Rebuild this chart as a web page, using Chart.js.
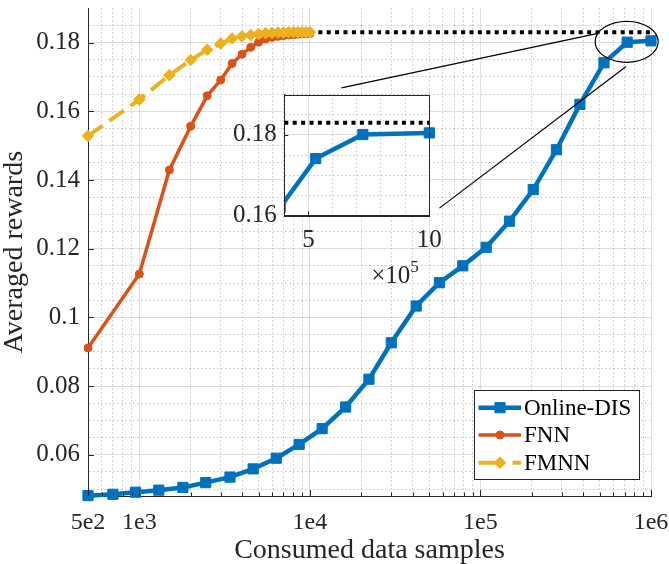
<!DOCTYPE html>
<html><head><meta charset="utf-8">
<script src="https://cdn.jsdelivr.net/npm/chart.js@4.4.1/dist/chart.umd.min.js"></script>
<style>
html,body{margin:0;padding:0;background:#fff;}
#wrap{position:relative;width:669px;height:564px;overflow:hidden;}
#main{position:absolute;left:0;top:0;}
#inset{position:absolute;left:224px;top:85px;}
</style></head><body>
<div id="wrap"><canvas id="main" width="669" height="564"></canvas><canvas id="inset" width="230" height="205"></canvas></div>
<script>
// ---- data ----
const seriesNames = ['Online-DIS', 'FNN', 'FMNN'];
const onlineDisX = [500, 700, 950, 1300, 1800, 2450, 3400, 4650, 6350, 8650, 11800, 16200, 22200, 30000, 42000, 57500, 78800, 108000, 148000, 204000, 279000, 383000, 530000, 725000, 1000000];
const onlineDisY = [0.0481, 0.0485, 0.0491, 0.0497, 0.0505, 0.0519, 0.0535, 0.0559, 0.0590, 0.0630, 0.0676, 0.0739, 0.0820, 0.0926, 0.1033, 0.1101, 0.1150, 0.1204, 0.1280, 0.1372, 0.1488, 0.1620, 0.1741, 0.1801, 0.1805];
const fnnX = [500, 1000, 1500, 2000, 2500, 3000, 3500, 4000, 4500, 5000, 5500, 6000, 6500, 7000, 7500, 8000, 8500, 9000, 9500, 10000];
const fnnY = [0.0911, 0.1126, 0.1429, 0.1556, 0.1645, 0.1691, 0.1739, 0.1766, 0.1786, 0.1801, 0.1810, 0.1815, 0.1818, 0.1820, 0.1822, 0.1823, 0.1824, 0.1825, 0.1825, 0.1826];
const fmnnX = [500, 1000, 1500, 2000, 2500, 3000, 3500, 4000, 4500, 5000, 5500, 6000, 6500, 7000, 7500, 8000, 8500, 9000, 9500, 10000];
const fmnnY = [0.1528, 0.1634, 0.1705, 0.1749, 0.1779, 0.1797, 0.1812, 0.1818, 0.1822, 0.1825, 0.1827, 0.1828, 0.1829, 0.1829, 0.1830, 0.1830, 0.1830, 0.1830, 0.1830, 0.1830];
const refLevel = 0.183;
const refX = [10000, 1000000];
const xTickValues = [500, 1000, 10000, 100000, 1000000];
const xTickLabels = ['5e2', '1e3', '1e4', '1e5', '1e6'];
const yTickValues = [0.06, 0.08, 0.1, 0.12, 0.14, 0.16, 0.18];
const yTickLabels = ['0.06', '0.08', '0.1', '0.12', '0.14', '0.16', '0.18'];
const insetXTickValues = [500000, 1000000];
const insetXTickLabels = ['5', '10'];
const insetYTickValues = [0.16, 0.18];
const insetYTickLabels = ['0.16', '0.18'];
const xLabel = 'Consumed data samples';
const yLabel = 'Averaged rewards';
const insetExponent = '5';

// ---- styling ----
const C_BLUE = '#0072BD', C_ORANGE = '#D95319', C_YELLOW = '#EDB120';
const AXIS = '#262626';
const GRID_MAJOR = 'rgba(38,38,38,0.15)';
const GRID_MINOR = 'rgba(38,38,38,0.25)';
const MINOR_DASH = [1.5, 2.5];
Chart.defaults.font.family = "'Liberation Serif', 'Times New Roman', serif";
Chart.defaults.color = AXIS;

const near = (a, b) => Math.abs(a - b) <= Math.abs(b) * 1e-6 + 1e-12;
const findIdx = (arr, v) => arr.findIndex(t => near(v, t));

// grid positions (log decades for x, 0.005 steps for y)
const xGrid = [];
[100, 1000, 10000, 100000].forEach(d => { for (let k = 1; k <= 9; k++) { const v = k * d; if (v >= 500) xGrid.push(v); } });
xGrid.push(1000000);
const yGrid = [];
for (let i = 10; i <= 37; i++) yGrid.push(i * 5 / 1000);
const insetXGrid = [400000, 500000, 600000, 700000, 800000, 900000, 1000000];
const insetYGrid = [0.16, 0.165, 0.17, 0.175, 0.18, 0.185, 0.19];
const xMajorGrid = [1000, 10000, 100000, 1000000];

const pts = (xs, ys) => xs.map((x, i) => ({x: x, y: ys[i]}));

function gridOpts(majors) {
  return {
    grid: {
      drawTicks: false, lineWidth: 1,
      color: c => (c.tick && findIdx(majors, c.tick.value) >= 0) ? GRID_MAJOR : GRID_MINOR
    },
    border: {
      display: true, color: AXIS, width: 1,
      dash: c => (c.tick && findIdx(majors, c.tick.value) < 0) ? MINOR_DASH : []
    }
  };
}

// ---- main chart ----
const legendDash = [26, 8];
const mainDecor = {
  id: 'mainDecor',
  afterDatasetsDraw(chart) {
    const {ctx, scales: {x, y}} = chart;
    ctx.save();
    ctx.strokeStyle = '#000';
    ctx.lineWidth = 1.2;
    ctx.beginPath();
    ctx.ellipse(x.getPixelForValue(720000), y.getPixelForValue(0.1802), 31.5, 20.5, 0, 0, Math.PI * 2);
    ctx.stroke();
    const seg = (x1, y1, x2, y2) => {
      ctx.beginPath();
      ctx.moveTo(x.getPixelForValue(x1), y.getPixelForValue(y1));
      ctx.lineTo(x.getPixelForValue(x2), y.getPixelForValue(y2));
      ctx.stroke();
    };
    seg(15300, 0.1668, 481000, 0.1826);
    seg(57500, 0.1318, 714000, 0.1730);
    ctx.restore();
  },
  afterDraw(chart) {
    const {ctx, chartArea: a, scales: {x, y}} = chart;
    ctx.save();
    ctx.strokeStyle = AXIS; ctx.lineWidth = 1;
    xGrid.forEach(v => {
      const px = Math.round(x.getPixelForValue(v)) + 0.5;
      const len = findIdx(xTickValues, v) >= 0 ? 6 : 3.5;
      ctx.beginPath(); ctx.moveTo(px, a.bottom); ctx.lineTo(px, a.bottom - len); ctx.stroke();
    });
    yTickValues.forEach(v => {
      const py = Math.round(y.getPixelForValue(v)) + 0.5;
      ctx.beginPath(); ctx.moveTo(a.left, py); ctx.lineTo(a.left + 6, py); ctx.stroke();
    });
    // legend box
    const bx = 474, by = 390, bw = 165, bh = 89;
    ctx.fillStyle = '#fff';
    ctx.fillRect(bx, by, bw, bh);
    ctx.strokeStyle = AXIS; ctx.lineWidth = 1;
    ctx.strokeRect(bx + 0.5, by + 0.5, bw, bh);
    const rows = [407.7, 435, 462.7];
    const ds = chart.data.datasets;
    [0, 1, 2].forEach(i => {
      const d = ds[i], yy = rows[i];
      ctx.save();
      ctx.strokeStyle = d.borderColor; ctx.lineWidth = d.borderWidth;
      ctx.setLineDash(d.borderDash ? legendDash : []);
      ctx.beginPath(); ctx.moveTo(478.5, yy); ctx.lineTo(521, yy); ctx.stroke();
      ctx.setLineDash([]);
      ctx.fillStyle = d.pointBackgroundColor; ctx.strokeStyle = d.pointBorderColor; ctx.lineWidth = 1;
      ctx.beginPath();
      if (d.pointStyle === 'rect') { const s = d.pointRadius * Math.SQRT1_2; ctx.rect(500 - s, yy - s, 2 * s, 2 * s); }
      else if (d.pointStyle === 'rectRot') { const r = d.pointRadius; ctx.moveTo(500, yy - r); ctx.lineTo(500 + r, yy); ctx.lineTo(500, yy + r); ctx.lineTo(500 - r, yy); ctx.closePath(); }
      else { ctx.arc(500, yy, d.pointRadius, 0, Math.PI * 2); }
      ctx.fill(); ctx.stroke();
      ctx.restore();
      ctx.fillStyle = '#000';
      ctx.font = "23px 'Liberation Serif', 'Times New Roman', serif";
      ctx.textBaseline = 'middle'; ctx.textAlign = 'left';
      ctx.fillText(seriesNames[i], 524, yy + 1);
    });
    ctx.restore();
  }
};

const gx = gridOpts(xMajorGrid);
const gy = gridOpts(yTickValues);

const mainChart = new Chart(document.getElementById('main'), {
  type: 'line',
  data: {
    datasets: [
      {label: seriesNames[0], data: pts(onlineDisX, onlineDisY), borderColor: C_BLUE, backgroundColor: C_BLUE,
       borderWidth: 4.5, pointStyle: 'rect', pointRadius: 7.2, pointBackgroundColor: C_BLUE, pointBorderColor: C_BLUE,
       pointBorderWidth: 1, tension: 0, clip: false, order: 2},
      {label: seriesNames[1], data: pts(fnnX, fnnY), borderColor: C_ORANGE, backgroundColor: C_ORANGE,
       borderWidth: 3.5, pointStyle: 'circle', pointRadius: 4, pointBackgroundColor: C_ORANGE, pointBorderColor: C_ORANGE,
       pointBorderWidth: 1, tension: 0, clip: false, order: 1},
      {label: seriesNames[2], data: pts(fmnnX, fmnnY), borderColor: C_YELLOW, backgroundColor: C_YELLOW,
       borderWidth: 4, borderDash: [18, 8], pointStyle: 'rectRot', pointRadius: 5.8, pointBackgroundColor: C_YELLOW, pointBorderColor: C_YELLOW,
       pointBorderWidth: 1, tension: 0, clip: false, order: 0},
      {label: 'ref', data: pts(refX, [refLevel, refLevel]), borderColor: '#000', borderWidth: 4, borderDash: [4, 4.4],
       borderCapStyle: 'butt', pointRadius: 0, tension: 0, clip: false, order: 3}
    ]
  },
  options: {
    responsive: false, animation: false, devicePixelRatio: 1,
    layout: {padding: {left: 0, right: 18, top: 7, bottom: 0}},
    plugins: {legend: {display: false}, tooltip: {enabled: false}},
    scales: {
      x: {
        type: 'logarithmic', min: 500, max: 1000000,
        afterBuildTicks: s => { s.ticks = xGrid.map(v => ({value: v})); },
        afterFit: s => { s.height = 68; s.paddingLeft = 0; s.paddingRight = 0; },
        grid: gx.grid, border: gx.border,
        ticks: {autoSkip: false, maxRotation: 0, minRotation: 0, padding: 12, color: AXIS, font: {size: 24},
          callback: v => { const i = findIdx(xTickValues, v); return i >= 0 ? xTickLabels[i] : ''; }},
        title: {display: true, text: xLabel, color: AXIS, font: {size: 28}, padding: {top: 0, bottom: -3}}
      },
      y: {
        type: 'linear', min: 0.048, max: 0.19,
        afterBuildTicks: s => { s.ticks = yGrid.map(v => ({value: v})); },
        afterFit: s => { s.width = 88; s.paddingTop = 0; s.paddingBottom = 0; },
        grid: gy.grid, border: gy.border,
        ticks: {autoSkip: false, padding: 8, color: AXIS, font: {size: 25, lineHeight: 0.4},
          callback: v => { const i = findIdx(yTickValues, v); return i >= 0 ? yTickLabels[i] : ''; }},
        title: {display: true, text: yLabel, color: AXIS, font: {size: 28}, padding: {top: -2, bottom: 0}}
      }
    }
  },
  plugins: [mainDecor]
});

// ---- inset chart ----
const insetDecor = {
  id: 'insetDecor',
  beforeDraw(chart) {
    const {ctx, chartArea: a} = chart;
    ctx.save(); ctx.fillStyle = '#fff';
    ctx.fillRect(a.left, a.top, a.right - a.left, a.bottom - a.top);
    ctx.restore();
  },
  afterDraw(chart) {
    const {ctx, chartArea: a, scales: {x, y}} = chart;
    ctx.save();
    ctx.strokeStyle = AXIS; ctx.lineWidth = 1;
    ctx.strokeRect(Math.round(a.left) + 0.5, Math.round(a.top) + 0.5, Math.round(a.right - a.left), Math.round(a.bottom - a.top));
    insetXTickValues.forEach(v => {
      const px = Math.round(x.getPixelForValue(v)) + 0.5;
      ctx.beginPath(); ctx.moveTo(px, a.bottom); ctx.lineTo(px, a.bottom - 4); ctx.stroke();
    });
    insetYTickValues.forEach(v => {
      const py = Math.round(y.getPixelForValue(v)) + 0.5;
      ctx.beginPath(); ctx.moveTo(a.left, py); ctx.lineTo(a.left + 4, py); ctx.stroke();
    });
    // x10^5 multiplier
    ctx.fillStyle = AXIS; ctx.textBaseline = 'alphabetic';
    ctx.font = "25px 'Liberation Serif', 'Times New Roman', serif";
    ctx.textAlign = 'right';
    const mx = a.right - 19, my = a.bottom + 67.5;
    ctx.fillText('\u00d710', mx, my);
    ctx.font = "17px 'Liberation Serif', 'Times New Roman', serif";
    ctx.textAlign = 'left';
    ctx.fillText(insetExponent, mx, my - 10.5);
    ctx.restore();
  }
};

const gix = gridOpts(insetXTickValues);
const giy = gridOpts(insetYTickValues);

const insetChart = new Chart(document.getElementById('inset'), {
  type: 'line',
  data: {
    datasets: [
      {label: seriesNames[0], data: pts(onlineDisX, onlineDisY), borderColor: C_BLUE, backgroundColor: C_BLUE,
       borderWidth: 4.5, pointStyle: 'rect', pointRadius: 7.2, pointBackgroundColor: C_BLUE, pointBorderColor: C_BLUE,
       pointBorderWidth: 1, tension: 0, clip: {left: 0, top: 8, right: 8, bottom: 0}, order: 0},
      {label: 'ref', data: pts([400000, 1000000], [refLevel, refLevel]), borderColor: '#000', borderWidth: 4, borderDash: [4, 4.4],
       borderCapStyle: 'butt', pointRadius: 0, tension: 0, clip: 0, order: 1}
    ]
  },
  options: {
    responsive: false, animation: false, devicePixelRatio: 1,
    layout: {padding: {left: 0, right: 24.7, top: 9.7, bottom: 0}},
    plugins: {legend: {display: false}, tooltip: {enabled: false}},
    scales: {
      x: {
        type: 'linear', min: 400000, max: 1000000,
        afterBuildTicks: s => { s.ticks = insetXGrid.map(v => ({value: v})); },
        afterFit: s => { s.height = 74.7; s.paddingLeft = 0; s.paddingRight = 0; },
        grid: gix.grid, border: gix.border,
        ticks: {autoSkip: false, maxRotation: 0, minRotation: 0, padding: 10, color: AXIS, font: {size: 25},
          callback: v => { const i = findIdx(insetXTickValues, v); return i >= 0 ? insetXTickLabels[i] : ''; }}
      },
      y: {
        type: 'linear', min: 0.16, max: 0.19,
        afterBuildTicks: s => { s.ticks = insetYGrid.map(v => ({value: v})); },
        afterFit: s => { s.width = 60.3; s.paddingTop = 0; s.paddingBottom = 0; },
        grid: giy.grid, border: giy.border,
        ticks: {autoSkip: false, padding: 7.6, color: AXIS, font: {size: 25, lineHeight: 0.4},
          callback: v => { const i = findIdx(insetYTickValues, v); return i >= 0 ? insetYTickLabels[i] : ''; }}
      }
    }
  },
  plugins: [insetDecor]
});
</script>
</body></html>
